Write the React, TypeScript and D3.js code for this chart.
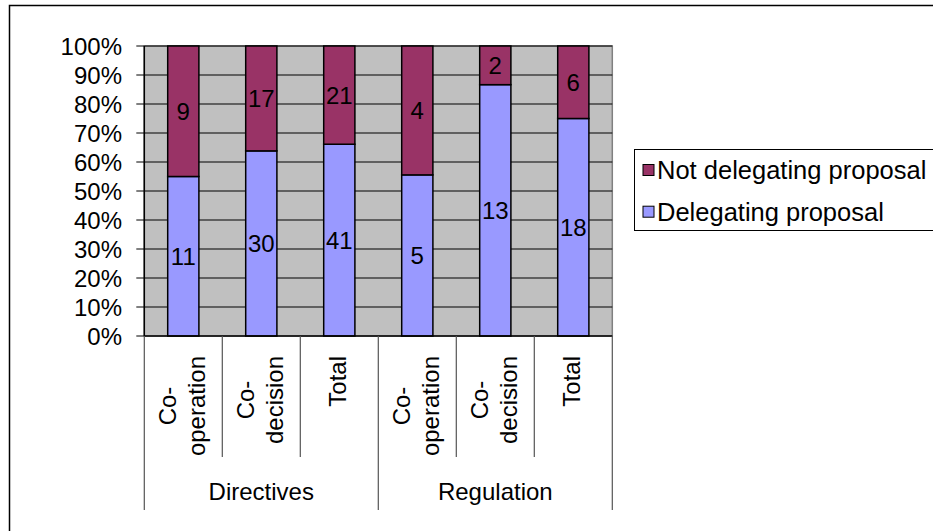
import React from "react";
import * as d3 from "d3";

// Stacked 100% bars: share of delegating vs. non-delegating proposals
const groups = ["Directives", "Regulation"];
const subCategories: string[][] = [["Co-", "operation"], ["Co-", "decision"], ["Total"]];
const delegating = [11, 30, 41, 5, 13, 18];
const notDelegating = [9, 17, 21, 4, 2, 6];
const seriesNames = ["Not delegating proposal", "Delegating proposal"];
const yTicks = [0, 0.1, 0.2, 0.3, 0.4, 0.5, 0.6, 0.7, 0.8, 0.9, 1];

const W = 933;
const H = 531;
const FONT = "'Liberation Sans', Arial, sans-serif";
const FS = 24;
const LEGEND_FS = 25.5;

const plot = { left: 144.3, right: 612.3, top: 46, bottom: 336 };
const COLOR_NOT = "#993366";
const COLOR_DEL = "#9999FF";

let measureCtx: CanvasRenderingContext2D | null = null;
function textWidth(s: string): number {
  if (!measureCtx) {
    const c = document.createElement("canvas");
    measureCtx = c.getContext("2d");
  }
  if (!measureCtx) return s.length * FS * 0.5;
  measureCtx.font = `${FS}px ${FONT}`;
  return measureCtx.measureText(s).width;
}

export default function App() {
  const cats = groups.flatMap((g, gi) => subCategories.map((_, si) => gi * subCategories.length + si));
  const x = d3
    .scaleBand<number>()
    .domain(cats)
    .range([plot.left, plot.right])
    .padding(0);
  const y = d3.scaleLinear().domain([0, 1]).range([plot.bottom, plot.top]);
  const barW = x.bandwidth() * 0.4;

  const rows = cats.map((i) => {
    const total = delegating[i] + notDelegating[i];
    return { i, del: delegating[i] / total, not: notDelegating[i] / total };
  });

  const lineH = 29;
  const labelTop = 356;

  return (
    <svg
      width={W}
      height={H}
      style={{ position: "absolute", left: 0, top: 0, background: "#fff" }}
      fontFamily={FONT}
    >
      {/* chart frame */}
      <rect x={9.5} y={5.5} width={1000} height={600} fill="#fff" stroke="#000" strokeWidth={1.5} />

      {/* plot area */}
      <rect
        x={plot.left}
        y={plot.top}
        width={plot.right - plot.left}
        height={plot.bottom - plot.top}
        fill="#C0C0C0"
        stroke="#808080"
        strokeWidth={1.5}
      />
      {yTicks.map((t) => (
        <g key={t}>
          {t > 0 && (
            <line x1={plot.left} x2={plot.right} y1={y(t)} y2={y(t)} stroke="#000" strokeWidth={1} />
          )}
          <line x1={plot.left - 8} x2={plot.left} y1={y(t)} y2={y(t)} stroke="#000" strokeWidth={1} />
          <text
            x={122}
            y={y(t)}
            dominantBaseline="central"
            textAnchor="end"
            fontSize={FS}
            fill="#000"
          >
            {d3.format(".0%")(t)}
          </text>
        </g>
      ))}

      {/* bars */}
      {rows.map((r) => {
        const cx = (x(r.i) as number) + x.bandwidth() / 2;
        const x0 = cx - barW / 2;
        return (
          <g key={r.i}>
            <rect
              x={x0}
              y={y(r.del)}
              width={barW}
              height={y(0) - y(r.del)}
              fill={COLOR_DEL}
              stroke="#000"
              strokeWidth={1.5}
            />
            <rect
              x={x0}
              y={y(1)}
              width={barW}
              height={y(r.del) - y(1)}
              fill={COLOR_NOT}
              stroke="#000"
              strokeWidth={1.5}
            />
            <text
              x={cx}
              y={(y(0) + y(r.del)) / 2}
              textAnchor="middle"
              dominantBaseline="central"
              fontSize={FS}
            >
              {delegating[r.i]}
            </text>
            <text
              x={cx}
              y={(y(r.del) + y(1)) / 2}
              textAnchor="middle"
              dominantBaseline="central"
              fontSize={FS}
            >
              {notDelegating[r.i]}
            </text>
          </g>
        );
      })}

      {/* axes */}
      <line x1={plot.left} x2={plot.left} y1={plot.top} y2={plot.bottom} stroke="#000" strokeWidth={1.5} />
      <line x1={plot.left} x2={plot.right} y1={plot.bottom} y2={plot.bottom} stroke="#000" strokeWidth={1.5} />

      {/* category axis: sub-category labels and dividers */}
      {cats.map((i) => {
        const lines = subCategories[i % subCategories.length];
        const cx = (x(i) as number) + x.bandwidth() / 2;
        const maxLen = Math.max(...lines.map(textWidth));
        const cy = labelTop + maxLen / 2;
        return (
          <g key={i}>
            {lines.map((ln, li) => (
              <text
                key={li}
                transform={`translate(${cx + 7 + (li - (lines.length - 1) / 2) * lineH},${cy}) rotate(-90)`}
                textAnchor="middle"
                fontSize={FS}
              >
                {ln}
              </text>
            ))}
          </g>
        );
      })}
      {d3.range(cats.length + 1).map((k) => {
        const xx = plot.left + k * x.step();
        const isGroupEdge = k % subCategories.length === 0;
        return (
          <line
            key={k}
            x1={xx}
            x2={xx}
            y1={plot.bottom}
            y2={isGroupEdge ? 510 : 457}
            stroke="#555"
            strokeWidth={1.2}
          />
        );
      })}
      {groups.map((g, gi) => {
        const gx0 = plot.left + gi * subCategories.length * x.step();
        const gx1 = gx0 + subCategories.length * x.step();
        return (
          <text key={g} x={(gx0 + gx1) / 2} y={500} textAnchor="middle" fontSize={FS}>
            {g}
          </text>
        );
      })}

      {/* legend */}
      <rect x={634.5} y={149.5} width={400} height={81} fill="#fff" stroke="#000" strokeWidth={1} />
      {seriesNames.map((name, k) => {
        const cy = 170 + k * 41.7;
        return (
          <g key={name}>
            <rect
              x={643}
              y={cy - 5.5}
              width={11}
              height={11}
              fill={k === 0 ? COLOR_NOT : COLOR_DEL}
              stroke="#000"
              strokeWidth={1}
            />
            <text x={657} y={cy} dominantBaseline="central" fontSize={LEGEND_FS}>
              {name}
            </text>
          </g>
        );
      })}
    </svg>
  );
}
